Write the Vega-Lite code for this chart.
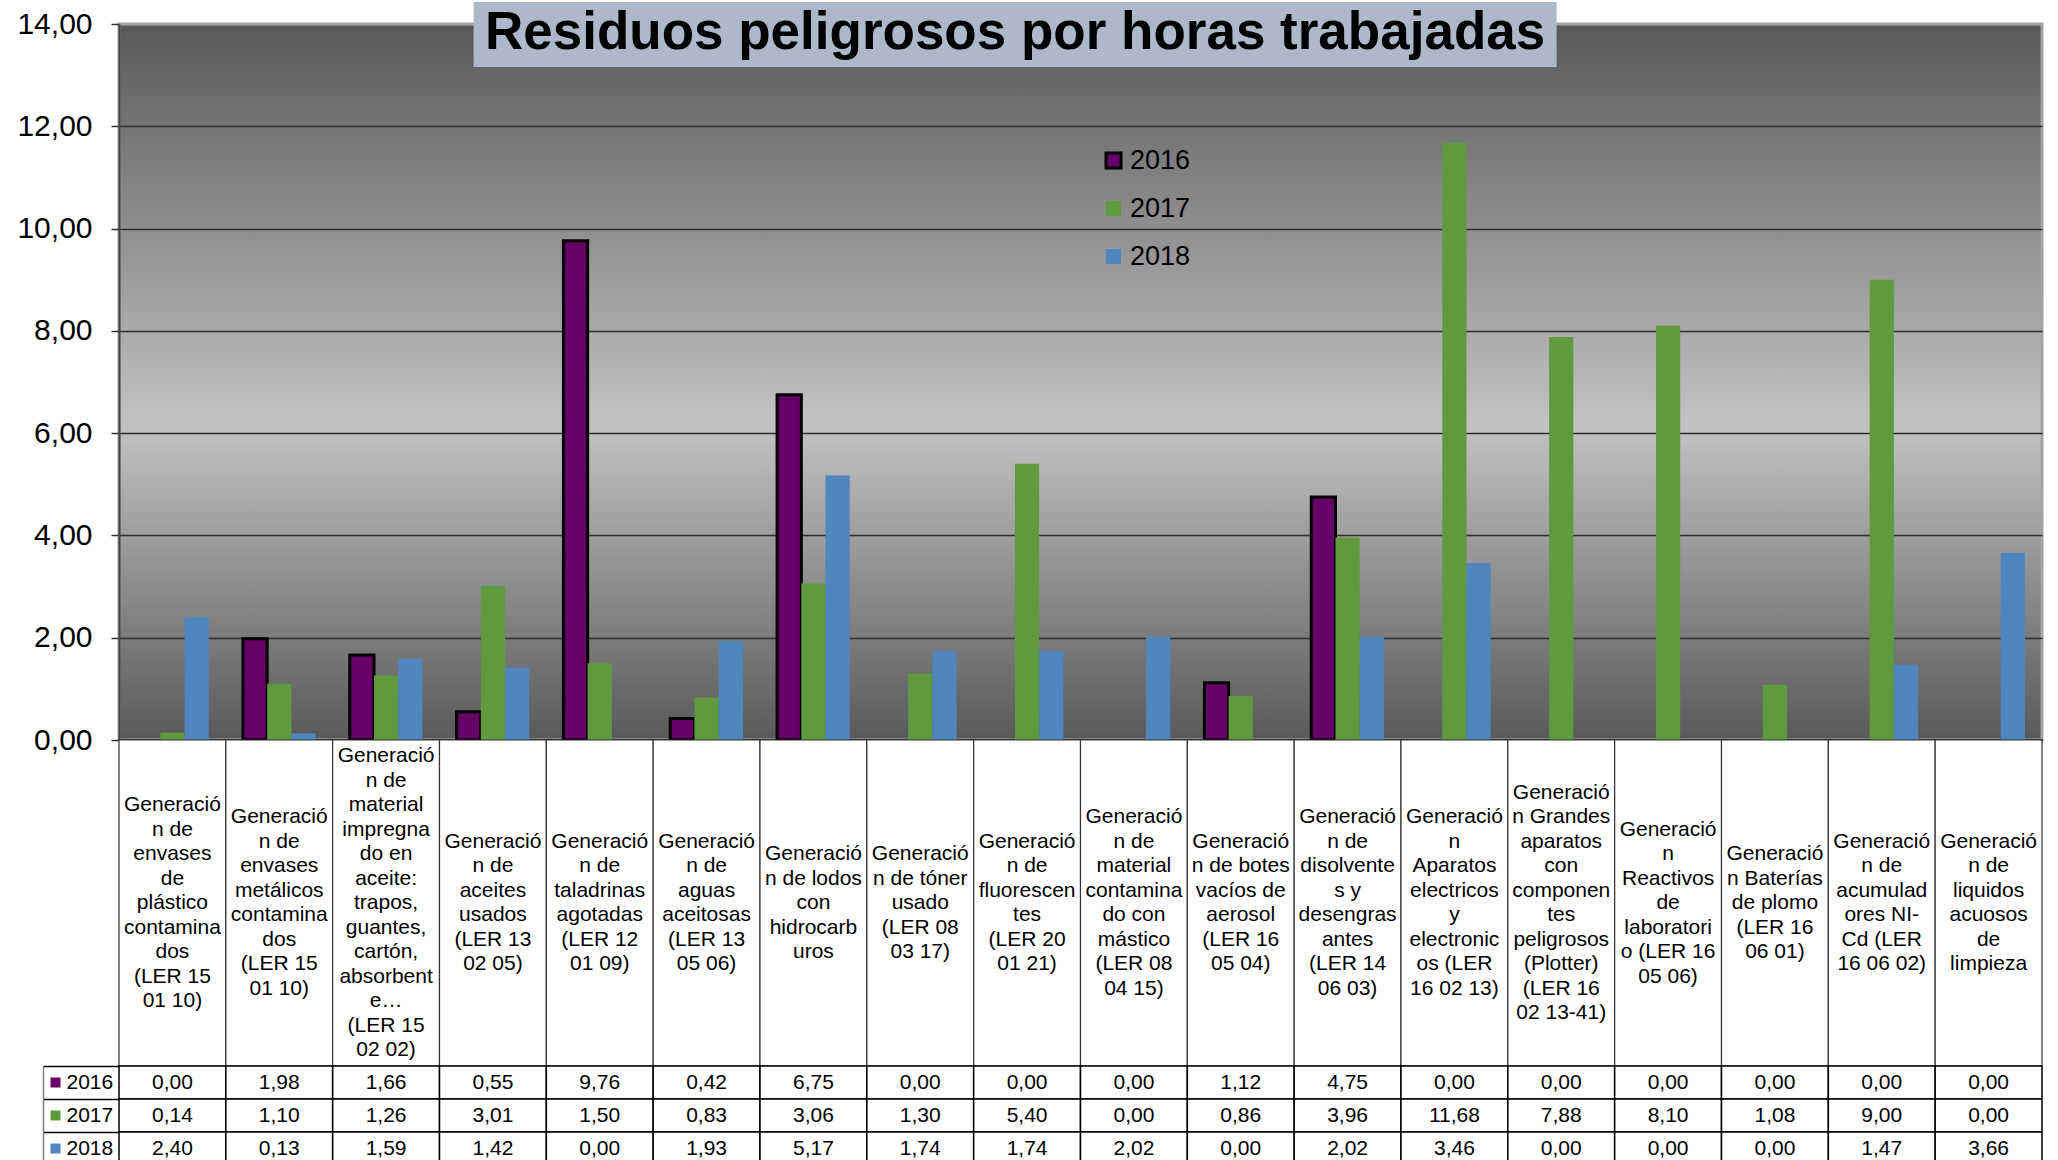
{
  "$schema": "https://vega.github.io/schema/vega-lite/v6.json",
  "padding": {"left": 15, "top": 0, "right": 5, "bottom": 0},
  "bounds": "flush",
  "spacing": 0,
  "background": "white",
  "config": {
    "locale": {"number": {"decimal": ",", "thousands": ".", "grouping": [3], "currency": ["", " €"]}},
    "font": "Liberation Sans, Arial, sans-serif",
    "view": {"stroke": null}
  },
  "datasets": {
    "cats": [
      {"cat": "c01", "label": "Generació\nn de\nenvases\nde\nplástico\ncontamina\ndos\n(LER 15\n01 10)"},
      {"cat": "c02", "label": "Generació\nn de\nenvases\nmetálicos\ncontamina\ndos\n(LER 15\n01 10)"},
      {"cat": "c03", "label": "Generació\nn de\nmaterial\nimpregna\ndo en\naceite:\ntrapos,\nguantes,\ncartón,\nabsorbent\ne…\n(LER 15\n02 02)"},
      {"cat": "c04", "label": "Generació\nn de\naceites\nusados\n(LER 13\n02 05)"},
      {"cat": "c05", "label": "Generació\nn de\ntaladrinas\nagotadas\n(LER 12\n01 09)"},
      {"cat": "c06", "label": "Generació\nn de\naguas\naceitosas\n(LER 13\n05 06)"},
      {"cat": "c07", "label": "Generació\nn de lodos\ncon\nhidrocarb\nuros"},
      {"cat": "c08", "label": "Generació\nn de tóner\nusado\n(LER 08\n03 17)"},
      {"cat": "c09", "label": "Generació\nn de\nfluorescen\ntes\n(LER 20\n01 21)"},
      {"cat": "c10", "label": "Generació\nn de\nmaterial\ncontamina\ndo con\nmástico\n(LER 08\n04 15)"},
      {"cat": "c11", "label": "Generació\nn de botes\nvacíos de\naerosol\n(LER 16\n05 04)"},
      {"cat": "c12", "label": "Generació\nn de\ndisolvente\ns y\ndesengras\nantes\n(LER 14\n06 03)"},
      {"cat": "c13", "label": "Generació\nn\nAparatos\nelectricos\ny\nelectronic\nos (LER\n16 02 13)"},
      {"cat": "c14", "label": "Generació\nn Grandes\naparatos\ncon\ncomponen\ntes\npeligrosos\n(Plotter)\n(LER 16\n02 13-41)"},
      {"cat": "c15", "label": "Generació\nn\nReactivos\nde\nlaboratori\no (LER 16\n05 06)"},
      {"cat": "c16", "label": "Generació\nn Baterías\nde plomo\n(LER 16\n06 01)"},
      {"cat": "c17", "label": "Generació\nn de\nacumulad\nores NI-\nCd (LER\n16 06 02)"},
      {"cat": "c18", "label": "Generació\nn de\nliquidos\nacuosos\nde\nlimpieza"}
    ],
    "vals": [
      {"cat": "c01", "year": "2016", "value": 0.00}, {"cat": "c01", "year": "2017", "value": 0.14}, {"cat": "c01", "year": "2018", "value": 2.40},
      {"cat": "c02", "year": "2016", "value": 1.98}, {"cat": "c02", "year": "2017", "value": 1.10}, {"cat": "c02", "year": "2018", "value": 0.13},
      {"cat": "c03", "year": "2016", "value": 1.66}, {"cat": "c03", "year": "2017", "value": 1.26}, {"cat": "c03", "year": "2018", "value": 1.59},
      {"cat": "c04", "year": "2016", "value": 0.55}, {"cat": "c04", "year": "2017", "value": 3.01}, {"cat": "c04", "year": "2018", "value": 1.42},
      {"cat": "c05", "year": "2016", "value": 9.76}, {"cat": "c05", "year": "2017", "value": 1.50}, {"cat": "c05", "year": "2018", "value": 0.00},
      {"cat": "c06", "year": "2016", "value": 0.42}, {"cat": "c06", "year": "2017", "value": 0.83}, {"cat": "c06", "year": "2018", "value": 1.93},
      {"cat": "c07", "year": "2016", "value": 6.75}, {"cat": "c07", "year": "2017", "value": 3.06}, {"cat": "c07", "year": "2018", "value": 5.17},
      {"cat": "c08", "year": "2016", "value": 0.00}, {"cat": "c08", "year": "2017", "value": 1.30}, {"cat": "c08", "year": "2018", "value": 1.74},
      {"cat": "c09", "year": "2016", "value": 0.00}, {"cat": "c09", "year": "2017", "value": 5.40}, {"cat": "c09", "year": "2018", "value": 1.74},
      {"cat": "c10", "year": "2016", "value": 0.00}, {"cat": "c10", "year": "2017", "value": 0.00}, {"cat": "c10", "year": "2018", "value": 2.02},
      {"cat": "c11", "year": "2016", "value": 1.12}, {"cat": "c11", "year": "2017", "value": 0.86}, {"cat": "c11", "year": "2018", "value": 0.00},
      {"cat": "c12", "year": "2016", "value": 4.75}, {"cat": "c12", "year": "2017", "value": 3.96}, {"cat": "c12", "year": "2018", "value": 2.02},
      {"cat": "c13", "year": "2016", "value": 0.00}, {"cat": "c13", "year": "2017", "value": 11.68}, {"cat": "c13", "year": "2018", "value": 3.46},
      {"cat": "c14", "year": "2016", "value": 0.00}, {"cat": "c14", "year": "2017", "value": 7.88}, {"cat": "c14", "year": "2018", "value": 0.00},
      {"cat": "c15", "year": "2016", "value": 0.00}, {"cat": "c15", "year": "2017", "value": 8.10}, {"cat": "c15", "year": "2018", "value": 0.00},
      {"cat": "c16", "year": "2016", "value": 0.00}, {"cat": "c16", "year": "2017", "value": 1.08}, {"cat": "c16", "year": "2018", "value": 0.00},
      {"cat": "c17", "year": "2016", "value": 0.00}, {"cat": "c17", "year": "2017", "value": 9.00}, {"cat": "c17", "year": "2018", "value": 1.47},
      {"cat": "c18", "year": "2016", "value": 0.00}, {"cat": "c18", "year": "2017", "value": 0.00}, {"cat": "c18", "year": "2018", "value": 3.66}
    ]
  },
  "resolve": {"scale": {"x": "independent", "y": "independent", "color": "independent", "stroke": "independent"}},
  "vconcat": [
    {
      "width": 1923,
      "height": 716,
      "view": {
        "fill": {"gradient": "linear", "x1": 0, "y1": 0, "x2": 0, "y2": 1,
          "stops": [{"offset": 0, "color": "#595959"}, {"offset": 0.56, "color": "#c3c3c3"}, {"offset": 1, "color": "#595959"}]},
        "stroke": "#a3a3a3",
        "strokeWidth": 3
      },
      "data": {"name": "vals"},
      "layer": [
        {
          "transform": [{"filter": "datum.value > 0"}],
          "mark": {"type": "bar", "strokeWidth": 3},
          "encoding": {
            "x": {"field": "cat", "type": "nominal",
              "scale": {"domain": ["c01","c02","c03","c04","c05","c06","c07","c08","c09","c10","c11","c12","c13","c14","c15","c16","c17","c18"], "paddingInner": 0.32, "paddingOuter": 0.16},
              "axis": {"labels": false, "ticks": false, "title": null, "domainColor": "#000000", "domainWidth": 2, "grid": false}},
            "xOffset": {"field": "year", "type": "nominal", "scale": {"domain": ["2016", "2017", "2018"], "paddingInner": 0, "paddingOuter": 0}},
            "y": {"field": "value", "type": "quantitative",
              "scale": {"domain": [0, 14], "nice": false},
              "axis": {"title": null, "values": [0, 2, 4, 6, 8, 10, 12, 14], "format": ".2f",
                "labelFontSize": 30, "labelColor": "#000000", "labelPadding": 19,
                "tickSize": 8, "tickColor": "#333333", "tickWidth": 1.5,
                "domainColor": "#404040", "domainWidth": 2,
                "grid": true, "gridWidth": 1.5,
                "gridColor": {"condition": {"test": "datum.value == 14", "value": "#a3a3a3"}, "value": "#2e2e2e"}}},
            "color": {"field": "year", "type": "nominal",
              "scale": {"domain": ["2016", "2017", "2018"], "range": ["#660066", "#5f9b3e", "#4f86bf"]},
              "legend": {"orient": "none", "legendX": 981, "legendY": 123, "title": null, "symbolType": "square", "symbolSize": 225, "labelFontSize": 27, "labelColor": "#000000", "rowPadding": 20, "symbolStrokeWidth": 3, "labelOffset": 3, "padding": 0}},
            "stroke": {"field": "year", "type": "nominal",
              "scale": {"domain": ["2016", "2017", "2018"], "range": ["#000000", "transparent", "transparent"]},
              "legend": {"orient": "none", "legendX": 981, "legendY": 123, "title": null, "symbolType": "square", "symbolSize": 225, "labelFontSize": 27, "labelColor": "#000000", "rowPadding": 20, "symbolStrokeWidth": 3, "labelOffset": 3, "padding": 0}}
          }
        },
        {
          "data": {"values": [{"t": "Residuos peligrosos por horas trabajadas"}]},
          "mark": {"type": "bar", "width": 1083, "fill": "#adb9ca", "xOffset": -12, "clip": false},
          "encoding": {"x": {"datum": "c09"}, "y": {"datum": 14.43}, "y2": {"datum": 13.16}}
        },
        {
          "data": {"values": [{"t": "Residuos peligrosos por horas trabajadas"}]},
          "mark": {"type": "text", "fontSize": 53, "fontWeight": "bold", "color": "#000000", "align": "center", "baseline": "middle", "dx": -12},
          "encoding": {"x": {"datum": "c09"}, "y": {"datum": 13.82}, "text": {"field": "t"}}
        }
      ]
    },
    {
      "width": 1923,
      "height": 326,
      "data": {"name": "cats"},
      "layer": [
        {
          "mark": {"type": "rect", "fill": "white", "stroke": "#333333", "strokeWidth": 1.2},
          "encoding": {
            "x": {"field": "cat", "type": "nominal", "scale": {"domain": ["c01","c02","c03","c04","c05","c06","c07","c08","c09","c10","c11","c12","c13","c14","c15","c16","c17","c18"], "paddingInner": 0, "paddingOuter": 0}, "axis": null}
          }
        },
        {
          "mark": {"type": "text", "lineBreak": "\n", "fontSize": 21, "lineHeight": 24.5, "align": "center", "baseline": "middle", "color": "#000000",
            "dy": {"expr": "-(split(datum.label, '\\n').length - 1) * 12.25"}},
          "encoding": {
            "x": {"field": "cat", "type": "nominal", "axis": null},
            "text": {"field": "label"}
          }
        }
      ]
    },
    {
      "width": 1923,
      "height": 99,
      "data": {"name": "vals"},
      "layer": [
        {
          "mark": {"type": "rect", "fill": "white", "stroke": "#000000", "strokeWidth": 1.5},
          "encoding": {
            "x": {"field": "cat", "type": "nominal", "scale": {"domain": ["c01","c02","c03","c04","c05","c06","c07","c08","c09","c10","c11","c12","c13","c14","c15","c16","c17","c18"], "paddingInner": 0, "paddingOuter": 0}, "axis": null},
            "y": {"field": "year", "type": "nominal", "scale": {"domain": ["2016", "2017", "2018"], "paddingInner": 0, "paddingOuter": 0},
              "axis": {"orient": "left", "offset": 76, "title": null, "labels": false, "domain": true, "domainColor": "#808080", "domainWidth": 1.5,
                "ticks": true, "tickBand": "extent", "tickSize": -76, "tickColor": "#000000", "tickWidth": 1.5, "grid": false}}
          }
        },
        {
          "mark": {"type": "text", "fontSize": 21, "color": "#000000", "align": "center", "baseline": "middle"},
          "encoding": {
            "x": {"field": "cat", "type": "nominal", "axis": null},
            "y": {"field": "year", "type": "nominal",
              "axis": {"orient": "left", "offset": 59, "title": null, "domain": false, "ticks": true, "tickSize": 10, "tickWidth": 10, "tickCap": "butt",
                "tickColor": {"condition": [{"test": "datum.value == '2016'", "value": "#660066"}, {"test": "datum.value == '2017'", "value": "#5f9b3e"}], "value": "#4f86bf"},
                "labelAlign": "left", "labelPadding": -16, "labelFontSize": 21, "labelColor": "#000000", "labelBaseline": "middle", "grid": false}},
            "text": {"field": "value", "type": "quantitative", "format": ".2f"}
          }
        }
      ],
      "resolve": {"axis": {"y": "independent"}}
    }
  ]
}
